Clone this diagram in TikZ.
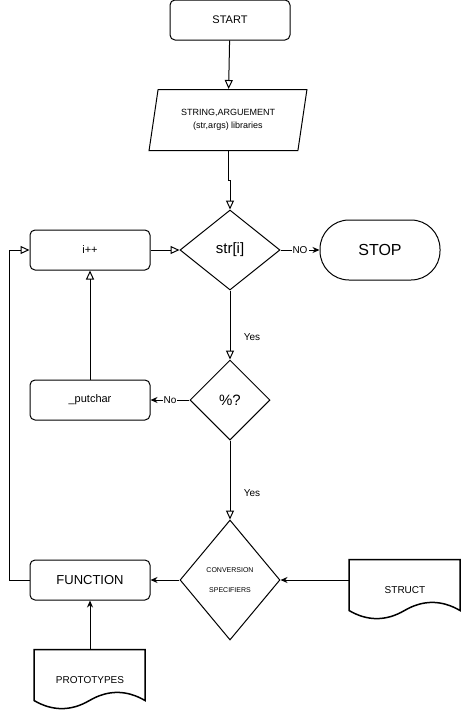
\documentclass[tikz,border=0pt]{standalone}
\usepackage{fontspec}
\setmainfont{Liberation Sans}
\usetikzlibrary{shapes.geometric,arrows.meta}

\begin{document}
\begin{tikzpicture}[x=1pt,y=-1pt,line width=1pt,
	box/.style={draw,rectangle,rounded corners=5,minimum width=120,minimum height=40,inner sep=0,font=\fontsize{11}{13}\selectfont},
	choice/.style={draw,diamond,inner sep=0},
	doc/.style={minimum width=111,minimum height=60,inner sep=0,font=\fontsize{10}{12}\selectfont},
	hollow/.style={-{Triangle[open,length=9,width=8]}},
	feed/.style={-{Stealth[length=7,width=6]}},
	lbl/.style={fill=white,inner sep=1,font=\fontsize{10}{12}\selectfont}]
	
	\useasboundingbox (0,0) rectangle (461,712);
	
	\node[box] (start) at (230,20) {START};
	\node[draw,trapezium,trapezium left angle=74,trapezium right angle=106,trapezium stretches=true,minimum width=158,minimum height=61,inner sep=0,align=center,font=\fontsize{9}{13}\selectfont] (input) at (228,120) {STRING,ARGUEMENT\\(str,args) libraries};
	\node[choice,minimum width=100,minimum height=80,font=\fontsize{15}{17}\selectfont] (check) at (230,250) {str[i]};
	\node[box] (incr) at (90,250) {i++};
	\node[draw,rectangle,rounded corners=29,minimum width=120,minimum height=60,font=\fontsize{16}{18}\selectfont] (stop) at (380,250) {STOP};
	\node[choice,minimum width=80,minimum height=80,font=\fontsize{15}{17}\selectfont] (percent) at (230,400) {\%?};
	\node[box] (put) at (90,400) {\_putchar};
	\node[choice,minimum width=100,minimum height=120,align=center,font=\fontsize{7}{20}\selectfont] (conv) at (230,580) {CONVERSION\\SPECIFIERS};
	\node[box,font=\fontsize{13}{15}\selectfont] (func) at (90,580) {FUNCTION};
	\node[doc] (struct) at (405,590) {STRUCT};
	\node[doc] (proto) at (90,680) {PROTOTYPES};
	
	% document outlines
	\foreach \d in {struct,proto}
		\draw[line width=1.5pt,shift={(\d.north west)}] (0,0) -- (111,0) -- (111,51) .. controls (92.5,40.2) and (74,40.2) .. (55.5,51) .. controls (37,61.8) and (18.5,61.8) .. (0,51) -- cycle;
	
	\draw[hollow] (start) -- (input);
	\draw[hollow] (input.south) -- ++(0,29) -| (check.north);
	\draw[hollow] (incr) -- (check);
	\draw[feed] (check) -- node[lbl]{NO} (stop);
	\draw[hollow] (check) -- node[pos=0.67,right=10,font=\fontsize{10}{12}\selectfont]{Yes} (percent);
	\draw[feed] (percent) -- node[lbl]{No} (put);
	\draw[hollow] (put) -- (incr);
	\draw[hollow] (percent) -- node[pos=0.66,right=10,font=\fontsize{10}{12}\selectfont]{Yes} (conv);
	\draw[feed] (conv) -- (func);
	\draw[feed] (struct.west |- conv) -- (conv);
	\draw[feed] (proto) -- (func);
	\draw[hollow] (func.west) -- ++(-20,0) |- (incr.west);
	
\end{tikzpicture}
\end{document}
